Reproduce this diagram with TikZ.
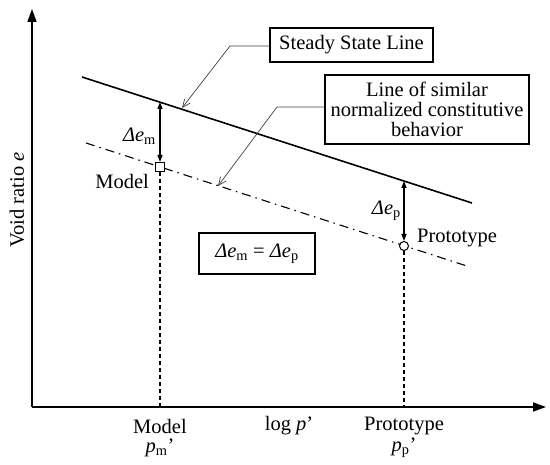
\documentclass[tikz,border=0pt]{standalone}
\usepackage{fontspec}
\setmainfont{Liberation Serif}
\usetikzlibrary{arrows.meta}
\newcommand\mydem{\textit{Δe}\textsubscript{m}}
\newcommand\mydep{\textit{Δe}\textsubscript{p}}
\begin{document}
\begin{tikzpicture}[x=1pt,y=-1pt,
  font=\fontsize{20.5}{20}\selectfont,
  axis/.style={line width=1.6pt,-{Triangle[length=13pt,width=9pt]}},
  ssl/.style={line width=1.6pt},
  simline/.style={line width=1.1pt,dash pattern=on 9pt off 5pt on 1.5pt off 5pt},
  drop/.style={line width=1.1pt,dash pattern=on 4pt off 3pt},
  gap/.style={line width=1.3pt,{Triangle[length=7pt,width=5pt]}-{Triangle[length=7pt,width=5pt]}},
  leader/.style={draw=black!75,line width=0.7pt,-{Straight Barb[length=8pt,width=7pt]}},
  labelbox/.style={draw,line width=1.1pt,inner sep=0pt,align=center},
  txt/.style={inner sep=0pt}]
\useasboundingbox (0,0) rectangle (550,465);

% axes
\coordinate (O) at (32,407);
\coordinate (Ytop) at (32,9);
\coordinate (Xend) at (546,407);
\draw[axis] (O) -- (Ytop);
\draw[axis] (O) -- (Xend);

% lines
\coordinate (S1) at (82,77);
\coordinate (S2) at (472,203);
\coordinate (D1) at (86,143);
\coordinate (D2) at (470,267);
\draw[ssl] (S1) -- (S2);
\draw[simline] (D1) -- (D2);

% points
\coordinate (SM) at (160,102);
\coordinate (SP) at (404,181);
\node[draw,fill=white,line width=1pt,minimum size=9pt,inner sep=0pt] (M) at (160,167) {};
\node[draw,fill=white,circle,line width=1pt,minimum size=9pt,inner sep=0pt] (P) at (404,246) {};
\coordinate (MX) at (160,407);
\coordinate (PX) at (404,407);
\draw[drop] (M.south) -- (MX);
\draw[drop] (P.south) -- (PX);
\draw[gap] (SM) -- (M.north);
\draw[gap] (SP) -- (P.north);

% labels near points
\node[txt,anchor=east] (LDm) at (156,136) {\mydem};
\node[txt,anchor=east] (LM) at (149,181) {Model};
\node[txt,anchor=east] (LDp) at (401,211) {\mydep};
\node[txt,anchor=west] (LP) at (417,238) {Prototype};

% boxes
\node[labelbox,minimum width=163pt,minimum height=34pt] (B1) at (351.5,45) {Steady State Line};
\node[labelbox,minimum width=204pt,minimum height=69pt] (B2) at (427,109.5) {Line of similar\\normalized constitutive\\behavior};
\node[labelbox,minimum width=116pt,minimum height=41pt] (B3) at (257,253.5) {\mydem{} = \mydep};

% leaders
\coordinate (K1) at (230,46);
\coordinate (T1) at (182,108);
\coordinate (K2) at (277,107);
\coordinate (T2) at (218,186);
\draw[leader] (B1.west |- K1) -- (K1) -- (T1);
\draw[leader] (B2.west |- K2) -- (K2) -- (T2);

% axis labels
\node[txt] (XM) at (160,426) {Model};
\node[txt] (XMp) at (160,448) {\textit{p}\textsubscript{m}’};
\node[txt] (XL) at (289,426) {log \textit{p}’};
\node[txt] (XP) at (404,426) {Prototype};
\node[txt] (XPp) at (404,448) {\textit{p}\textsubscript{p}’};
\node[txt,rotate=90] (YL) at (17,200) {Void ratio \textit{e}};
\end{tikzpicture}
\end{document}
